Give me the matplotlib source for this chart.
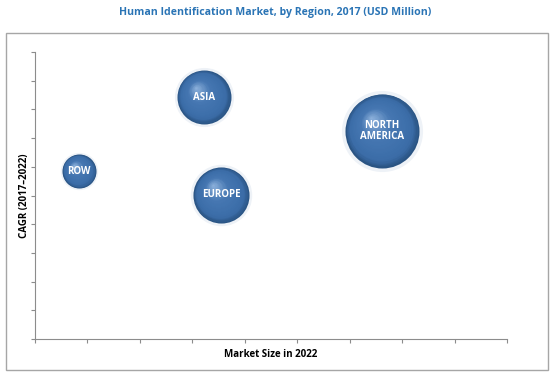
import matplotlib
matplotlib.use("AGG")
import matplotlib.pyplot as plt
import numpy as np
from matplotlib.colors import to_rgb
from matplotlib.patches import Rectangle
from matplotlib.transforms import ScaledTranslation

regions = ["ROW", "ASIA", "EUROPE", "NORTH\nAMERICA"]
market_size_2022 = [0.84, 3.22, 3.55, 6.62]
cagr = [5.85, 8.43, 5.02, 7.25]
market_2017 = [600, 1510, 1630, 2840]

W, H = 551, 375
fig = plt.figure(figsize=(W / 100, H / 100), dpi=100)

# outer frame
fig.patches.append(Rectangle((6 / W, 5 / H), 542 / W, 337 / H, transform=fig.transFigure,
                             fill=False, edgecolor="#a6a6a6", linewidth=1.0))
fig.text(0.5, 1 - 12 / H, "Human Identification Market, by Region, 2017 (USD Million)",
         ha="center", va="center", color="#2a74b5", fontsize=7.6, fontweight="bold",
         family="Open Sans")

ax = fig.add_axes([35 / W, 36 / H, 472 / W, 287 / H])
ax.set_xlim(0, 9)
ax.set_ylim(0, 10)
ax.set_xticks(range(10))
ax.set_yticks(range(11))
ax.set_xticklabels([])
ax.set_yticklabels([])
for s in ["top", "right"]:
    ax.spines[s].set_visible(False)
for s in ["left", "bottom"]:
    ax.spines[s].set_color("#8c8c8c")
    ax.spines[s].set_linewidth(0.8)
ax.tick_params(direction="out", length=3, width=0.8, color="#8c8c8c")
ax.set_xlabel("Market Size in 2022", fontsize=7, fontweight="bold", family="Open Sans", labelpad=1)
ax.set_ylabel("CAGR (2017\u20132022)", fontsize=7, fontweight="bold", family="Open Sans", labelpad=-3)

# sphere shading: edge -> body -> highlight
ramp = [(0.0, to_rgb("#2a5483")), (0.15, to_rgb("#3b6da8")), (0.6, to_rgb("#4677b2")),
        (1.0, to_rgb("#8aafda"))]


def shade(t):
    for (t0, c0), (t1, c1) in zip(ramp[:-1], ramp[1:]):
        if t <= t1:
            u = (t - t0) / (t1 - t0)
            return np.array(c0) * (1 - u) + np.array(c1) * u
    return np.array(ramp[-1][1])


n = 30
for x, y, s, name in zip(market_size_2022, cagr, market_2017, regions):
    r_pt = np.sqrt(s) / 2
    # soft glow
    ax.scatter([x], [y], s=s * 1.2, color="#eef2f7", linewidths=0, zorder=2)
    for k in range(n):
        f = 1 - k / n
        dx = -0.3 * r_pt * (1 - f) / 72
        dy = 0.35 * r_pt * (1 - f) / 72
        tr = ax.transData + ScaledTranslation(dx, dy, fig.dpi_scale_trans)
        ax.scatter([x], [y], s=s * f ** 2, color=shade(k / (n - 1)), linewidths=0,
                   zorder=3 + k * 0.01, transform=tr)
    ax.text(x, y, name, ha="center", va="center", color="white", fontsize=7,
            fontweight="bold", family="Open Sans", zorder=5, linespacing=1.1)

fig.savefig("out.png", dpi=100)
